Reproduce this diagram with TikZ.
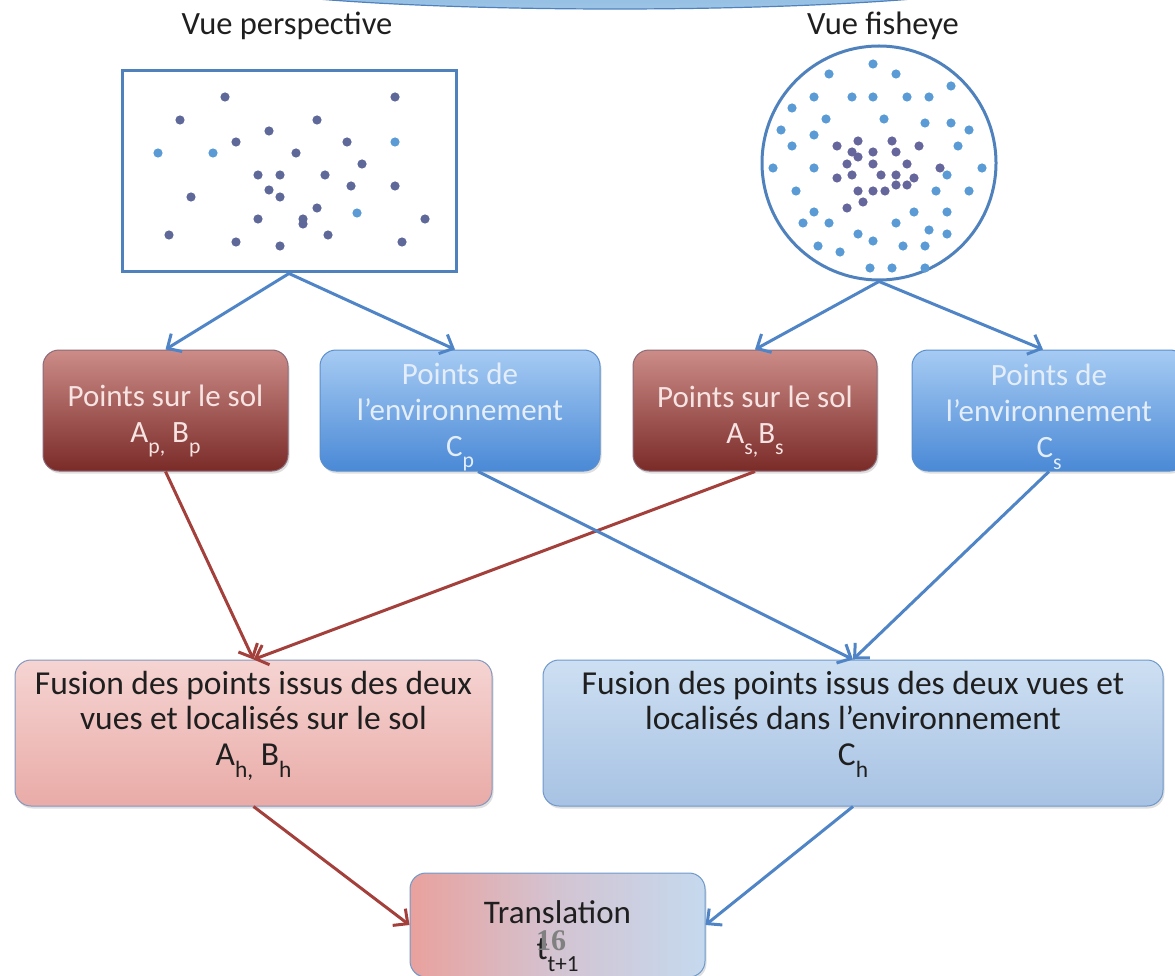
\documentclass[tikz,border=0pt]{standalone}
\usepackage{fontspec}
\setmainfont{Carlito}
\newfontfamily\numfont{Liberation Serif}
\usetikzlibrary{arrows.meta,shadows}
\newcommand\dn[1]{\raisebox{-0.36em}{\scalebox{0.7}{#1}}}
\newcommand\topstrut[1]{\rule{0pt}{#1}}
\definecolor{frameblue}{HTML}{4F81BD}
\definecolor{arrowblue}{HTML}{4F85C6}
\definecolor{arrowred}{HTML}{A4403B}
\definecolor{redtop}{HTML}{CC8C88}
\definecolor{redbot}{HTML}{7A2B28}
\definecolor{redtext}{HTML}{F6E4E3}
\definecolor{redborder}{HTML}{8C6A78}
\definecolor{bluetop}{HTML}{A6CBF3}
\definecolor{bluebot}{HTML}{4A89D6}
\definecolor{bluetext}{HTML}{E4EEFA}
\definecolor{blueborder}{HTML}{5B8FCC}
\definecolor{fredtop}{HTML}{F5D4D2}
\definecolor{fredbot}{HTML}{E9ABA7}
\definecolor{fredborder}{HTML}{8397BF}
\definecolor{fbluetop}{HTML}{CDDFF2}
\definecolor{fbluebot}{HTML}{A7C2E3}
\definecolor{fblueborder}{HTML}{6E98CB}
\definecolor{tpink}{HTML}{E9A19D}
\definecolor{tblue}{HTML}{C5D9EE}
\definecolor{tmid}{HTML}{D3C4D2}
\definecolor{dotdark}{HTML}{5E6899}
\definecolor{dotlight}{HTML}{5B9BD5}
\definecolor{dotfish}{HTML}{65679C}
\definecolor{bannertop}{HTML}{6FA4D4}
\definecolor{bannerbot}{HTML}{9CC4E6}
\begin{document}
\begin{tikzpicture}[x=1pt,y=-1pt,
  lbl/.style={font=\fontsize{32.5}{38}\selectfont, text=black!88, anchor=base, inner sep=0pt},
  box/.style={rounded corners=16pt, align=center, inner sep=0pt, line width=1pt,
    drop shadow={shadow xshift=1.5pt, shadow yshift=-2.5pt, opacity=.25}},
  redbox/.style={box, font=\fontsize{31}{36}\selectfont, draw=redborder, top color=redtop, bottom color=redbot, text=redtext, minimum height=121pt},
  bluebox/.style={box, font=\fontsize{31}{36}\selectfont, draw=blueborder, top color=bluetop, bottom color=bluebot, text=bluetext, minimum height=121pt},
  fusr/.style={box, font=\fontsize{33.5}{35.5}\selectfont, draw=fredborder, top color=fredtop, bottom color=fredbot, text=black!88},
  fusb/.style={box, font=\fontsize{33.5}{35.5}\selectfont, draw=fblueborder, top color=fbluetop, bottom color=fbluebot, text=black!88},
  transbox/.style={box, font=\fontsize{33}{36}\selectfont, draw=fblueborder, left color=tpink, right color=tblue, middle color=tmid, text=black!88},
  conn/.style={line width=3pt, -{Straight Barb[length=11pt,width=21pt]}},
  bluearrow/.style={conn, draw=arrowblue},
  redarrow/.style={conn, draw=arrowred},
  frame/.style={draw=frameblue, line width=3pt, inner sep=0pt}
]
\useasboundingbox (0,0) rectangle (1175,976);

% banner sliver at the top
\shade[top color=bannertop, bottom color=bannerbot, draw=frameblue, line width=1.2pt]
  (615,-25) ellipse [x radius=420pt, y radius=34pt];

% views
\node[lbl] (vp) at (287,35) {Vue perspective};
\node[lbl] (vf) at (883,35) {Vue fisheye};
\node[frame, minimum width=334pt, minimum height=201pt] (persp) at (289,171.5) {};
\node[frame, circle, minimum size=234pt] (fish) at (879,163) {};

% dots in the perspective view
\foreach \x/\y in {225/97,395/97,180/120,317/120,269/131,236/142,347/142,296/153,362/164,
  258/175,280/175,325/175,351/186,395/186,269/190,191/197,280/197,317/208,258/219,303/219,
  303/224,425/219,169/235,328/235,236/242,402/242,280/246}
  \fill[dotdark] (\x,\y) circle (4.6pt);
\foreach \x/\y in {395/142,158/153,213/153,357/213}
  \fill[dotlight] (\x,\y) circle (4.6pt);

% dots in the fisheye view
\foreach \x/\y in {873/64,829/74,896/74,951/86,814/97,852/97,873/97,907/97,929/97,792/108,
  826/119,884/119,925/123,951/123,969/130,781/130,814/135,792/146,958/146,773/168,814/168,
  982/168,947/175,796/191,936/191,969/191,814/212,914/212,947/212,803/223,829/223,896/223,
  929/230,858/234,947/234,873/241,818/246,903/246,925/246,840/252,870/268,892/268,925/268}
  \fill[dotlight] (\x,\y) circle (4.6pt);
\foreach \x/\y in {837/146,858/141,892/141,919/146,852/152,873/152,896/152,858/157,847/164,
  873/164,907/164,940/168,852/175,881/175,896/175,837/178,914/178,896/185,907/185,858/191,
  873/191,885/191,863/202,847/208}
  \fill[dotfish] (\x,\y) circle (4.6pt);

% first row of boxes
\node[redbox, minimum width=245pt] (r1) at (165.5,410.5) {\topstrut{43pt}Points sur le sol\\A\dn{p,} B\dn{p}};
\node[bluebox, minimum width=280pt] (b1) at (460,410.5) {\topstrut{34pt}Points de\\l’environnement\\C\dn{p}};
\node[redbox, minimum width=244pt] (r2) at (755,410.5) {\topstrut{43pt}Points sur le sol\\A\dn{s,}B\dn{s}};
\node[bluebox, minimum width=274pt] (b2) at (1049,410.5) {\topstrut{34pt}Points de\\l’environnement\\C\dn{s}};

% fusion boxes
\node[fusr, minimum width=477pt, minimum height=146pt] (f1) at (253.5,733)
  {Fusion des points issus des deux\\vues et localisés sur le sol\\A\dn{h,} B\dn{h}\rule[-30pt]{0pt}{1pt}};
\node[fusb, minimum width=620pt, minimum height=146pt] (f2) at (853,733)
  {Fusion des points issus des deux vues et\\localisés dans l’environnement\\C\dn{h}\rule[-30pt]{0pt}{1pt}};

% translation
\node[transbox, minimum width=295pt, minimum height=104pt] (t) at (557.5,925) {\topstrut{46pt}Translation\\t\dn{t+1}};
\node[font=\numfont\bfseries\fontsize{30}{30}\selectfont, text=black!50, anchor=base, inner sep=0pt] (num) at (551,950) {16};

% connectors
\draw[bluearrow] (persp.south) -- (r1.north);
\draw[bluearrow] (persp.south) -- ([xshift=-5pt]b1.north);
\draw[bluearrow] (fish.south) -- (r2.north);
\draw[bluearrow] (fish.south) -- ([xshift=-6pt]b2.north);
\draw[redarrow] (r1.south) -- (f1.north);
\draw[redarrow] (r2.south) -- (f1.north);
\draw[bluearrow] ([xshift=18pt]b1.south) -- (f2.north);
\draw[bluearrow] (b2.south) -- (f2.north);
\draw[redarrow] (f1.south) -- (t.west);
\draw[bluearrow] (f2.south) -- (t.east);
\end{tikzpicture}
\end{document}
